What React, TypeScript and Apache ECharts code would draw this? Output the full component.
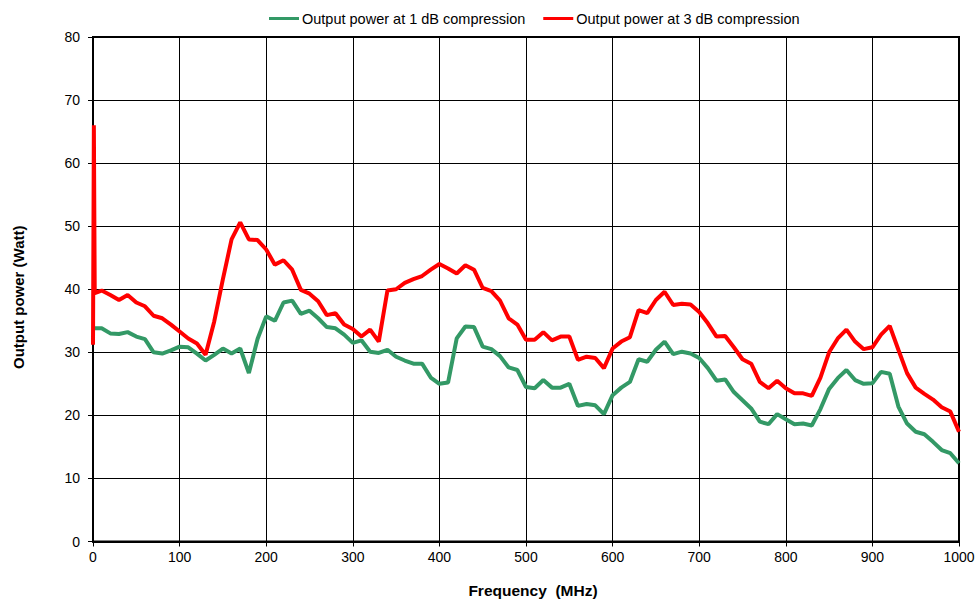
import React, { useEffect, useRef } from "react";
import * as echarts from "echarts";

const freqs = [
  10, 20, 30, 40, 50, 60, 70, 80, 90, 100,
  110, 120, 130, 140, 150, 160, 170, 180, 190, 200,
  210, 220, 230, 240, 250, 260, 270, 280, 290, 300,
  310, 320, 330, 340, 350, 360, 370, 380, 390, 400,
  410, 420, 430, 440, 450, 460, 470, 480, 490, 500,
  510, 520, 530, 540, 550, 560, 570, 580, 590, 600,
  610, 620, 630, 640, 650, 660, 670, 680, 690, 700,
  710, 720, 730, 740, 750, 760, 770, 780, 790, 800,
  810, 820, 830, 840, 850, 860, 870, 880, 890, 900,
  910, 920, 930, 940, 950, 960, 970, 980, 990, 1000,
];

// low-frequency start points (MHz, Watt)
const redStart: [number, number][] = [[0, 31.2], [1, 66], [2, 39.4]];
const greenStart: [number, number][] = [[1.5, 33.8]];

const power3dB = [
  39.8, 39.1, 38.3, 39.1, 37.9, 37.3, 35.8, 35.4, 34.4, 33.3,
  32.2, 31.4, 29.6, 34.9, 41.6, 47.9, 50.6, 47.9, 47.8, 46.3,
  43.9, 44.6, 43.1, 39.9, 39.3, 38.1, 35.9, 36.2, 34.4, 33.7,
  32.5, 33.6, 31.7, 39.8, 40.0, 41.0, 41.6, 42.1, 43.1, 44.0,
  43.3, 42.5, 43.8, 43.1, 40.2, 39.7, 38.2, 35.4, 34.4, 32.0,
  32.0, 33.2, 31.9, 32.5, 32.5, 28.8, 29.3, 29.1, 27.5, 30.6,
  31.7, 32.4, 36.7, 36.2, 38.3, 39.6, 37.5, 37.7, 37.6, 36.4,
  34.6, 32.5, 32.6, 30.8, 28.9, 28.2, 25.3, 24.3, 25.5, 24.3,
  23.5, 23.5, 23.1, 26.0, 30.0, 32.2, 33.6, 31.7, 30.5, 30.8,
  32.8, 34.2, 30.4, 26.7, 24.4, 23.4, 22.5, 21.3, 20.6, 17.4,
];

const power1dB = [
  33.8, 33.0, 32.9, 33.2, 32.5, 32.1, 30.0, 29.8, 30.3, 30.9,
  30.8, 29.8, 28.7, 29.6, 30.6, 29.8, 30.6, 26.7, 32.1, 35.7,
  35.0, 37.9, 38.2, 36.1, 36.6, 35.4, 34.0, 33.8, 32.8, 31.5,
  31.9, 30.1, 29.9, 30.4, 29.3, 28.7, 28.2, 28.2, 26.0, 25.0,
  25.2, 32.2, 34.1, 34.0, 30.9, 30.5, 29.4, 27.6, 27.2, 24.5,
  24.3, 25.6, 24.4, 24.4, 25.0, 21.5, 21.8, 21.6, 20.2, 23.2,
  24.4, 25.3, 28.9, 28.5, 30.4, 31.7, 29.7, 30.1, 29.8, 29.1,
  27.5, 25.5, 25.7, 23.7, 22.4, 21.1, 19.0, 18.6, 20.2, 19.4,
  18.6, 18.7, 18.4, 21.0, 24.2, 25.9, 27.2, 25.6, 25.0, 25.1,
  26.9, 26.6, 21.4, 18.7, 17.4, 17.0, 15.8, 14.5, 14.0, 12.4,
];

const seriesNames = ["Output power at 1 dB compression", "Output power at 3 dB compression"];
const xAxisTitle = "Frequency  (MHz)";
const yAxisTitle = "Output power (Watt)";

export default function App() {
  const ref = useRef<HTMLDivElement>(null);
  useEffect(() => {
    if (!ref.current) return;
    const chart = echarts.init(ref.current, undefined, { renderer: "svg" });
    const green = [...greenStart, ...freqs.map((f, i) => [f, power1dB[i]])];
    const red = [...redStart, ...freqs.map((f, i) => [f, power3dB[i]])];
    const font = "'Liberation Sans', Arial, sans-serif";
    chart.setOption({
      animation: false,
      backgroundColor: "#ffffff",
      textStyle: { fontFamily: font },
      grid: {
        left: 93,
        right: 17,
        top: 37,
        bottom: 59.5,
        show: true,
        borderColor: "#000",
        borderWidth: 2,
        containLabel: false,
        outerBoundsMode: "none",
      },
      legend: {
        top: 6,
        left: 264,
        icon: "rect",
        itemWidth: 30,
        itemHeight: 3,
        itemGap: 18,
        itemStyle: { borderWidth: 0 },
        textStyle: { fontSize: 14.5, color: "#000", fontFamily: font, padding: [0, 0, 0, -2] },
        data: seriesNames,
      },
      xAxis: {
        type: "value",
        min: 0,
        max: 1000,
        interval: 100,
        name: xAxisTitle,
        nameLocation: "middle",
        nameGap: 41,
        nameTextStyle: { fontWeight: "bold", fontSize: 15.5, color: "#000", padding: [0, 0, 0, 14] },
        axisLine: { show: true, lineStyle: { color: "#000", width: 2 } },
        axisTick: { show: true, inside: false, length: 5, lineStyle: { color: "#000" } },
        axisLabel: { fontSize: 14, color: "#000", margin: 8, formatter: (v: number) => String(v) },
        splitLine: { show: true, lineStyle: { color: "#000", width: 1 } },
      },
      yAxis: {
        type: "value",
        min: 0,
        max: 80,
        interval: 10,
        name: yAxisTitle,
        nameLocation: "middle",
        nameGap: 67,
        nameTextStyle: { fontWeight: "bold", fontSize: 15, color: "#000", padding: [0, 16, 0, 0] },
        axisLine: { show: true, lineStyle: { color: "#000", width: 2 } },
        axisTick: { show: true, inside: false, length: 5, lineStyle: { color: "#000" } },
        axisLabel: { fontSize: 14, color: "#000", margin: 13, formatter: (v: number) => String(v) },
        splitLine: { show: true, lineStyle: { color: "#000", width: 1 } },
      },
      series: [
        {
          name: seriesNames[0],
          type: "line",
          data: green,
          symbol: "none",
          lineStyle: { color: "#339966", width: 4 },
          itemStyle: { color: "#339966" },
          z: 2,
        },
        {
          name: seriesNames[1],
          type: "line",
          data: red,
          symbol: "none",
          lineStyle: { color: "#ff0000", width: 4 },
          itemStyle: { color: "#ff0000" },
          z: 3,
        },
      ],
    });
    return () => chart.dispose();
  }, []);
  return <div ref={ref} style={{ width: 976, height: 601, position: "fixed", left: 0, top: 0 }} />;
}
